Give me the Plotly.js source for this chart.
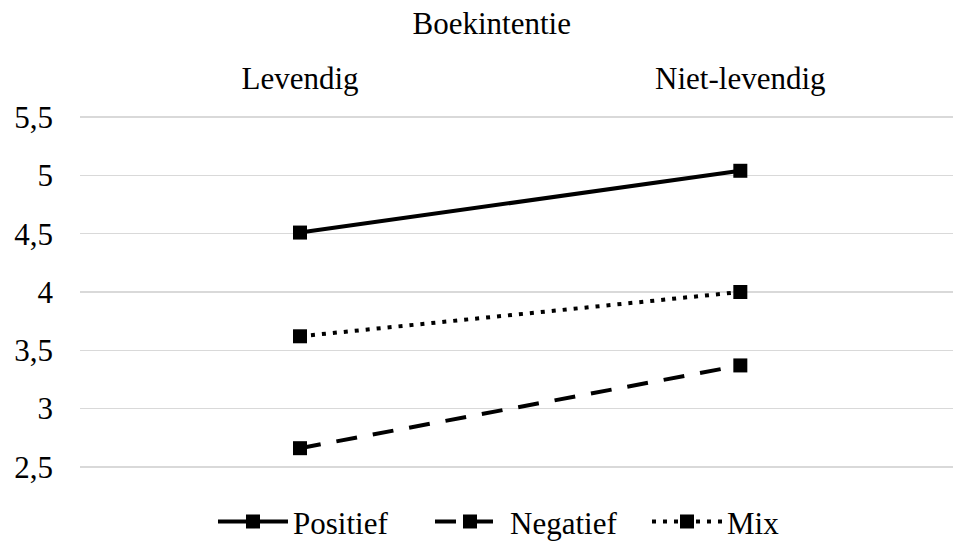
<!DOCTYPE html>
<html>
<head>
<meta charset="utf-8">
<script src="https://cdn.plot.ly/plotly-3.0.1.min.js"></script>
<style>html,body{margin:0;padding:0;background:#fff;}#chart{width:953px;height:547px;}</style>
</head>
<body>
<div id="chart"></div>
<script>
const categories = ["Levendig", "Niet-levendig"];
const seriesNames = ["Positief", "Negatief", "Mix"];
const positief = [4.51, 5.04];
const negatief = [2.66, 3.37];
const mix = [3.62, 4.00];
const yTickValues = [2.5, 3, 3.5, 4, 4.5, 5, 5.5];
const chartTitle = "Boekintentie";

const FONT = "'Liberation Serif', 'Times New Roman', Times, serif";
const values = [positief, negatief, mix];
const dashes = ["solid", "21px,16px", "4px,7px"];

const traces = values.map((v, i) => ({
  type: "scatter",
  mode: "lines+markers",
  name: seriesNames[i],
  x: categories,
  y: v,
  line: {color: "#000000", width: 4, dash: dashes[i]},
  marker: {symbol: "square", size: 14, color: "#000000"},
  cliponaxis: false
}));

const layout = {
  width: 953,
  height: 547,
  margin: {l: 80, r: 0, t: 116, b: 79, pad: 0},
  paper_bgcolor: "#ffffff",
  plot_bgcolor: "#ffffff",
  separators: ", ",
  font: {family: FONT, size: 31, color: "#000000"},
  title: {
    text: chartTitle,
    font: {family: FONT, size: 31, color: "#000000"},
    xref: "container", yref: "container",
    x: 0.516, xanchor: "center",
    y: 0.958, yanchor: "middle"
  },
  xaxis: {
    type: "category",
    side: "top",
    range: [-0.4997, 1.483],
    showgrid: false,
    zeroline: false,
    showline: false,
    ticks: "",
    ticklabelstandoff: 20,
    tickfont: {family: FONT, size: 31, color: "#000000"},
    fixedrange: true
  },
  yaxis: {
    range: [2.49, 5.51],
    tickvals: yTickValues,
    showgrid: true,
    gridcolor: "#d9d9d9",
    gridwidth: 1.5,
    zeroline: false,
    showline: false,
    ticks: "",
    ticklabelstandoff: 26,
    tickfont: {family: FONT, size: 31, color: "#000000"},
    fixedrange: true
  },
  showlegend: true,
  legend: {
    orientation: "h",
    xref: "container", yref: "container",
    x: 0.2235, xanchor: "left",
    y: 0.046, yanchor: "middle",
    itemwidth: 70,
    entrywidth: 132,
    font: {family: FONT, size: 31, color: "#000000"},
    bgcolor: "rgba(0,0,0,0)",
    itemclick: false,
    itemdoubleclick: false
  },
  hovermode: false
};

Plotly.newPlot("chart", traces, layout, {displayModeBar: false, staticPlot: true});
</script>
</body>
</html>
